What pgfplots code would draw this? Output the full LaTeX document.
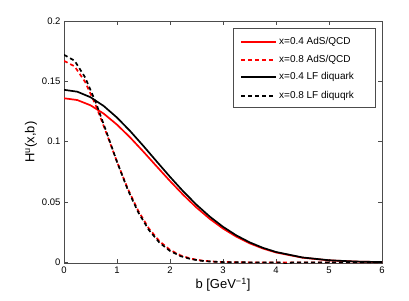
\documentclass[border=0pt]{standalone}
\usepackage{fontspec}
\setmainfont{Liberation Sans}
\usepackage{pgfplots}
\pgfplotsset{compat=1.18}
\begin{document}
\begin{tikzpicture}
\path[use as bounding box] (-64pt,-37pt) rectangle (345pt,263pt);
\begin{axis}[
  scale only axis,
  width=318pt, height=242pt,
  xmin=0, xmax=6, ymin=-0.0005, ymax=0.2,
  xtick={0,1,2,3,4,5,6},
  ytick={0,0.05,0.1,0.15,0.2},
  yticklabels={0,0.05,0.1,0.15,0.2},
  /pgf/number format/assume math mode=true,
  tick align=inside,
  major tick length=4pt,
  tick style={black!70, line width=0.5pt},
  axis line style={black!70, line width=0.6pt},
  ticklabel style={font=\fontsize{9.5}{11}\selectfont},
  xlabel={b [GeV\textsuperscript{−1}]},
  ylabel={H\textsuperscript{u}(x,b)},
  label style={font=\fontsize{13}{15}\selectfont},
  xlabel style={yshift=2pt},
  ylabel style={yshift=-2pt},
]
\addplot[red, line width=1.7pt] coordinates {
(0,0.1360) (0.25,0.13452) (0.5,0.13016) (0.75,0.12322) (1,0.11412) (1.25,0.10340)
(1.5,0.09164) (1.75,0.07947) (2,0.06742) (2.25,0.05595) (2.5,0.04543) (2.75,0.03609)
(3,0.02805) (3.25,0.02132) (3.5,0.01585) (3.75,0.01154) (4,0.00821) (4.5,0.00390)
(5,0.00169) (5.5,0.00068) (6,0.00025)};
\addplot[red, line width=1.7pt, dash pattern=on 4pt off 3pt] coordinates {
(0,0.167) (0.2,0.16242) (0.4,0.14944) (0.6,0.13006) (0.8,0.10708) (1.0,0.08339)
(1.2,0.06144) (1.4,0.04281) (1.6,0.02822) (1.8,0.01760) (2.0,0.01038) (2.2,0.00580)
(2.4,0.00306) (2.6,0.00153) (2.8,0.00072) (3.0,0.00032) (3.5,0.00003) (4,0) (5,0) (6,0)};
\addplot[black, line width=1.7pt] coordinates {
(0,0.1430) (0.25,0.14144) (0.5,0.13686) (0.75,0.12956) (1,0.11999) (1.25,0.10872)
(1.5,0.09636) (1.75,0.08356) (2,0.07089) (2.25,0.05883) (2.5,0.04777) (2.75,0.03795)
(3,0.02949) (3.25,0.02242) (3.5,0.01667) (3.75,0.01213) (4,0.00863) (4.5,0.00410)
(5,0.00178) (5.5,0.00071) (6,0.00026)};
\addplot[black, line width=1.7pt, dash pattern=on 4pt off 3pt] coordinates {
(0,0.172) (0.2,0.16709) (0.4,0.15317) (0.6,0.13251) (0.8,0.10817) (1.0,0.08334)
(1.2,0.06058) (1.4,0.04156) (1.6,0.02691) (1.8,0.01644) (2.0,0.00948) (2.2,0.00516)
(2.4,0.00265) (2.6,0.00128) (2.8,0.00059) (3.0,0.00025) (3.5,0.00002) (4.1,0)
(4.2,-0.0015) (4.3,0) (5,0) (6,0)};
% legend: box, keys (aligned to whole pixels), texts
\draw[black!70, line width=0.6pt, fill=white] (rel axis cs:0.531,0.645) rectangle (rel axis cs:0.978,0.971);
\draw[red, line width=2pt] (rel axis cs:0.557,0.91322) -- (rel axis cs:0.667,0.91322);
\draw[red, line width=2pt, dash pattern=on 4pt off 3pt] (rel axis cs:0.557,0.83884) -- (rel axis cs:0.667,0.83884);
\draw[black, line width=2pt] (rel axis cs:0.557,0.76860) -- (rel axis cs:0.667,0.76860);
\draw[black, line width=2pt, dash pattern=on 4pt off 3pt] (rel axis cs:0.557,0.69008) -- (rel axis cs:0.667,0.69008);
\begin{scope}[every node/.style={anchor=west, inner sep=0pt, font=\fontsize{10}{12}\selectfont}]
\node at (rel axis cs:0.676,0.91322) {x=0.4 AdS/QCD};
\node at (rel axis cs:0.676,0.83884) {x=0.8 AdS/QCD};
\node at (rel axis cs:0.676,0.76860) {x=0.4 LF diquark};
\node at (rel axis cs:0.676,0.69008) {x=0.8 LF diquqrk};
\end{scope}
\end{axis}
\end{tikzpicture}
\end{document}
